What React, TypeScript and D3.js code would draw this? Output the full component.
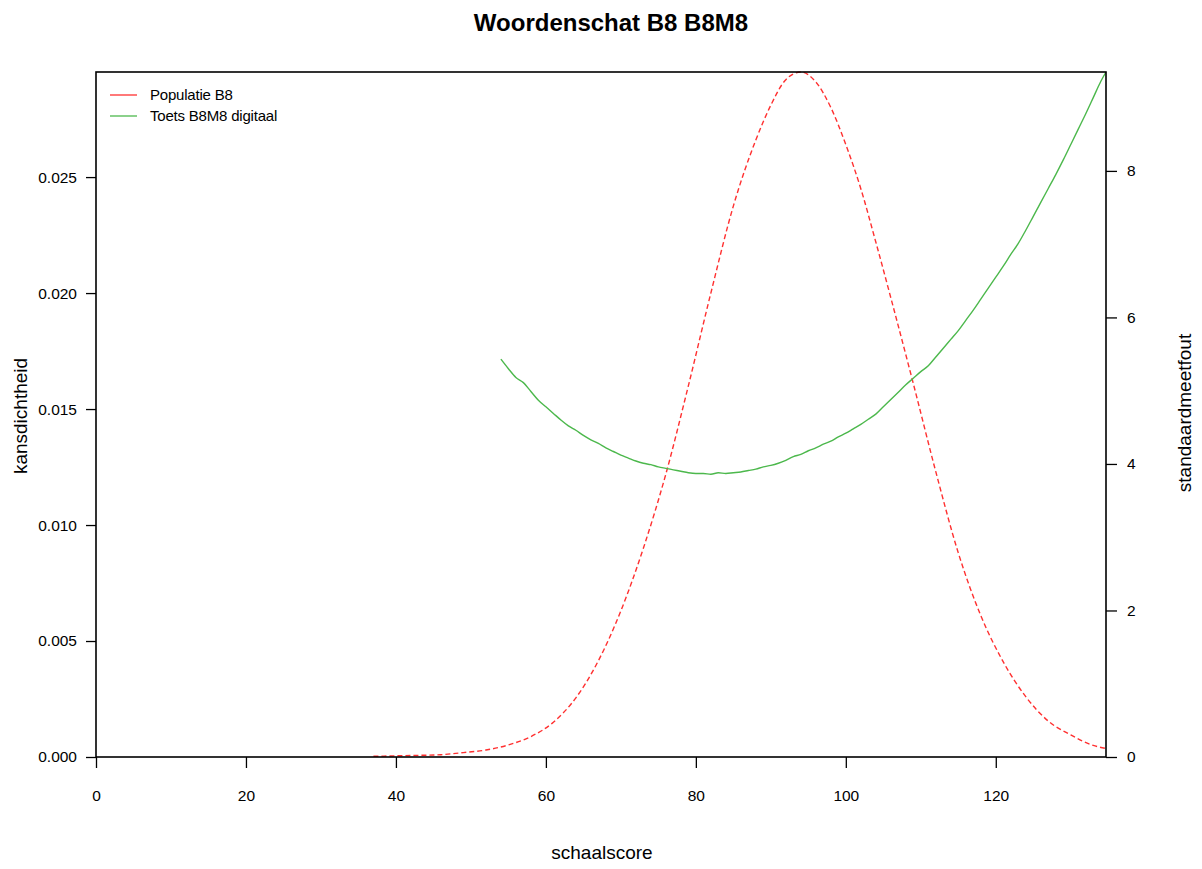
import React, { useEffect, useRef } from 'react';
import * as d3 from 'd3';

// Populatie B8: kansdichtheid per schaalscore
const popScores = [37, 40, 43, 46, 49, 52, 55, 58, 61, 64, 67, 70, 73, 76, 79, 82, 85, 88, 90, 92, 94, 96, 98, 100, 102, 104, 106, 109, 112, 115, 118, 121, 124, 127, 130, 133, 134.7];
const popDensity = [0.00003, 0.00005, 0.00007, 0.0001, 0.00019, 0.0003, 0.00052, 0.00088, 0.0015, 0.00255, 0.00415, 0.0063, 0.009, 0.0122, 0.016, 0.02, 0.02375, 0.0266, 0.0281, 0.0292, 0.02953, 0.0291, 0.028, 0.0264, 0.0245, 0.0222, 0.0198, 0.0161, 0.0123, 0.0088, 0.0061, 0.0041, 0.0026, 0.00155, 0.00095, 0.0005, 0.00037];

// Toets B8M8 digitaal: standaardmeetfout per schaalscore
const semScores = [54, 55, 56, 57, 58, 59, 60, 61, 62, 63, 64, 65, 66, 67, 68, 69, 70, 71, 72, 73, 74, 75, 76, 77, 78, 79, 80, 81, 82, 83, 84, 85, 86, 87, 88, 89, 90, 91, 92, 93, 94, 95, 96, 97, 98, 99, 100, 101, 102, 103, 104, 105, 106, 107, 108, 109, 110, 111, 112, 113, 114, 115, 116, 117, 118, 119, 120, 121, 122, 123, 124, 125, 126, 127, 128, 129, 130, 131, 132, 133, 134, 134.7];
const semValues = [5.43, 5.3, 5.18, 5.11, 4.99, 4.87, 4.78, 4.69, 4.6, 4.52, 4.46, 4.39, 4.33, 4.28, 4.22, 4.17, 4.12, 4.08, 4.04, 4.01, 3.99, 3.96, 3.94, 3.92, 3.9, 3.88, 3.87, 3.87, 3.86, 3.88, 3.87, 3.88, 3.89, 3.91, 3.93, 3.96, 3.98, 4.01, 4.05, 4.1, 4.13, 4.18, 4.22, 4.27, 4.31, 4.37, 4.42, 4.48, 4.54, 4.61, 4.68, 4.78, 4.88, 4.98, 5.08, 5.17, 5.26, 5.34, 5.46, 5.58, 5.7, 5.82, 5.96, 6.1, 6.25, 6.4, 6.55, 6.7, 6.86, 7.01, 7.19, 7.38, 7.57, 7.76, 7.95, 8.15, 8.36, 8.57, 8.78, 9.0, 9.22, 9.35];

const xTicks = [0, 20, 40, 60, 80, 100, 120];
const leftTicks = [0, 0.005, 0.01, 0.015, 0.02, 0.025];
const rightTicks = [0, 2, 4, 6, 8];

const legendLabels = ['Populatie B8', 'Toets B8M8 digitaal'];
const legendColors = ['#ff3030', '#4cb84c'];

const FONT = 'Liberation Sans, Arial, Helvetica, sans-serif';

export default function App() {
  const ref = useRef<SVGSVGElement>(null);

  useEffect(() => {
    const width = 1202;
    const height = 869;
    const margin = { top: 72, left: 96, right: 96, bottom: 112 };

    const svg = d3.select(ref.current);
    svg.selectAll('*').remove();

    svg.append('rect').attr('width', width).attr('height', height).attr('fill', 'white');

    const x = d3.scaleLinear()
      .domain([0, d3.max(popScores) as number])
      .range([margin.left, width - margin.right]);
    const yLeft = d3.scaleLinear()
      .domain([0, d3.max(popDensity) as number])
      .range([height - margin.bottom, margin.top]);
    const yRight = d3.scaleLinear()
      .domain([0, d3.max(semValues) as number])
      .range([height - margin.bottom, margin.top]);

    // title
    svg.append('text')
      .attr('x', 611)
      .attr('y', 31)
      .attr('text-anchor', 'middle')
      .style('font-family', FONT)
      .style('font-weight', 'bold')
      .style('font-size', '24px')
      .text('Woordenschat B8 B8M8');

    // curves
    const densLine = d3.line<number>()
      .x((d, i) => x(popScores[i]))
      .y((d) => yLeft(d))
      .curve(d3.curveMonotoneX);

    svg.append('path')
      .attr('d', densLine(popDensity))
      .attr('fill', 'none')
      .attr('stroke', legendColors[0])
      .attr('stroke-width', 1.4)
      .attr('stroke-dasharray', '5,3');

    const semLine = d3.line<number>()
      .x((d, i) => x(semScores[i]))
      .y((d) => yRight(d))
      .curve(d3.curveMonotoneX);

    svg.append('path')
      .attr('d', semLine(semValues))
      .attr('fill', 'none')
      .attr('stroke', legendColors[1])
      .attr('stroke-width', 1.4);

    // axes
    const xAxis = svg.append('g')
      .attr('transform', `translate(0, ${height - margin.bottom})`)
      .call(d3.axisBottom(x).tickValues(xTicks).tickSize(11).tickPadding(22).tickFormat(d3.format('d')));
    const lAxis = svg.append('g')
      .attr('transform', `translate(${margin.left}, 0)`)
      .call(d3.axisLeft(yLeft).tickValues(leftTicks).tickSize(10).tickPadding(9).tickFormat(d3.format('.3f')));
    const rAxis = svg.append('g')
      .attr('transform', `translate(${width - margin.right}, 0)`)
      .call(d3.axisRight(yRight).tickValues(rightTicks).tickSize(11).tickPadding(10).tickFormat(d3.format('d')));

    [xAxis, lAxis, rAxis].forEach((g) => {
      g.select('.domain').remove();
      g.selectAll('line').attr('stroke', '#000').attr('stroke-width', 1.3);
      g.selectAll('text')
        .attr('fill', '#000')
        .style('font-family', FONT)
        .style('font-size', '15.5px');
    });

    // frame
    svg.append('rect')
      .attr('x', margin.left)
      .attr('y', margin.top)
      .attr('width', width - margin.left - margin.right)
      .attr('height', height - margin.top - margin.bottom)
      .attr('fill', 'none')
      .attr('stroke', '#000')
      .attr('stroke-width', 1.6);

    // axis titles
    svg.append('text')
      .attr('x', 602)
      .attr('y', 859)
      .attr('text-anchor', 'middle')
      .style('font-family', FONT)
      .style('font-size', '19px')
      .text('schaalscore');

    svg.append('text')
      .attr('transform', 'translate(27, 416) rotate(-90)')
      .attr('text-anchor', 'middle')
      .style('font-family', FONT)
      .style('font-size', '19px')
      .text('kansdichtheid');

    svg.append('text')
      .attr('transform', 'translate(1191, 413) rotate(-90)')
      .attr('text-anchor', 'middle')
      .style('font-family', FONT)
      .style('font-size', '19px')
      .text('standaardmeetfout');

    // legend
    const legend = svg.append('g')
      .selectAll('g.legend')
      .data(legendLabels)
      .enter()
      .append('g')
      .attr('class', 'legend');

    legend.append('line')
      .attr('x1', 110)
      .attr('x2', 137)
      .attr('y1', (d, i) => 95 + i * 21)
      .attr('y2', (d, i) => 95 + i * 21)
      .attr('stroke', (d, i) => legendColors[i])
      .attr('stroke-width', 1.3);

    legend.append('text')
      .attr('x', 150)
      .attr('y', (d, i) => 100 + i * 21)
      .style('font-family', FONT)
      .style('font-size', '15px')
      .style('letter-spacing', '-0.2px')
      .text((d) => d);
  }, []);

  return (
    <svg
      ref={ref}
      width={1202}
      height={869}
      style={{ position: 'absolute', left: 0, top: 0, display: 'block' }}
    />
  );
}
